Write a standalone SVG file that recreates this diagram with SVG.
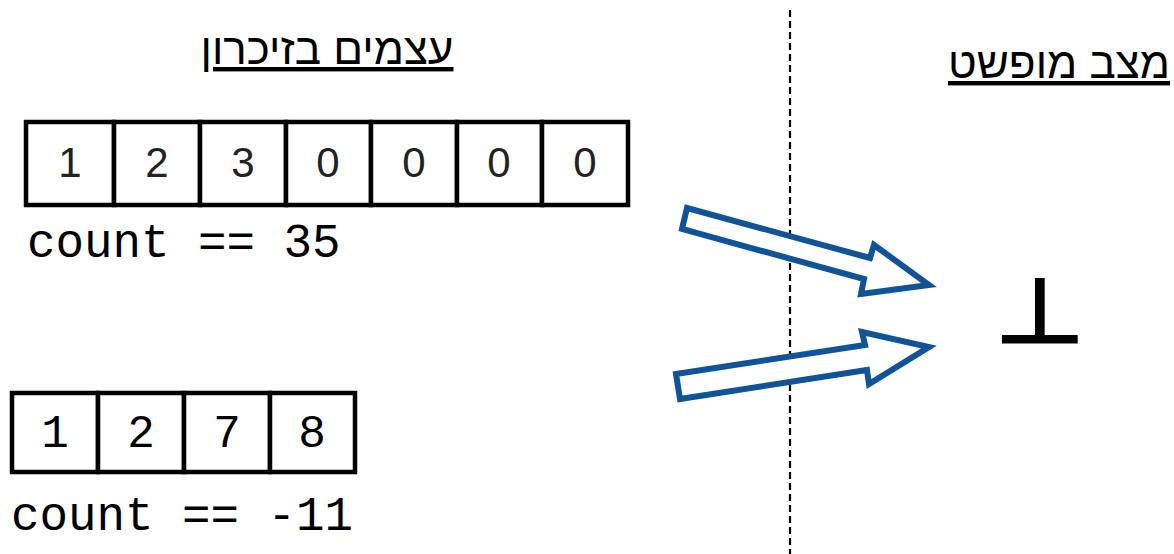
<svg xmlns="http://www.w3.org/2000/svg" width="1174" height="554" viewBox="0 0 1174 554">
<style>
.cell{fill:#fff;stroke:#000;stroke-width:4.5}
.dig{font-family:"Liberation Sans",Arial,sans-serif;font-size:42px;fill:#222;text-anchor:middle}
.dig2{font-family:"Liberation Mono","Courier New",monospace;font-size:46px;fill:#000;text-anchor:middle}
.mono{font-family:"Liberation Mono","Courier New",monospace;font-size:47.5px;fill:#000}
.title{font-family:"Liberation Sans",Arial,sans-serif;font-size:44px;fill:#000;text-anchor:middle;text-decoration:underline}
.arrow{fill:#fff;stroke:#0F5499;stroke-width:6;stroke-linejoin:miter}
</style>
<rect width="1174" height="554" fill="#fff"/>
<g id="title-memory"><text class="title" x="327" y="64">עצמים בזיכרון</text></g>
<g id="title-abstract"><text class="title" x="1059" y="78">מצב מופשט</text></g>
<line x1="790" y1="10" x2="790" y2="554" stroke="#000" stroke-width="2.2" stroke-dasharray="7,4"/>
<g id="array1">
<rect class="cell" x="26" y="122" width="88" height="83"/>
<rect class="cell" x="114" y="122" width="86" height="83"/>
<rect class="cell" x="200" y="122" width="86" height="83"/>
<rect class="cell" x="286" y="122" width="85" height="83"/>
<rect class="cell" x="371" y="122" width="86" height="83"/>
<rect class="cell" x="457" y="122" width="85" height="83"/>
<rect class="cell" x="542" y="122" width="86" height="83"/>
<text class="dig" x="70" y="177">1</text>
<text class="dig" x="157" y="177">2</text>
<text class="dig" x="243" y="177">3</text>
<text class="dig" x="328" y="177">0</text>
<text class="dig" x="414" y="177">0</text>
<text class="dig" x="499" y="177">0</text>
<text class="dig" x="585" y="177">0</text>
</g>
<g id="count1"><text class="mono" x="27" y="257">count == 35</text></g>
<g id="array2">
<rect class="cell" x="12" y="393" width="86" height="79"/>
<rect class="cell" x="98" y="393" width="86" height="79"/>
<rect class="cell" x="184" y="393" width="86" height="79"/>
<rect class="cell" x="270" y="393" width="85" height="79"/>
<text class="dig2" x="55" y="447">1</text>
<text class="dig2" x="141" y="447">2</text>
<text class="dig2" x="227" y="447">7</text>
<text class="dig2" x="312" y="447">8</text>
</g>
<g id="count2"><text class="mono" x="11" y="530">count == -11</text></g>
<g id="connectors">
<polygon class="arrow" points="687,208 870,258 874,245 929,285 861,294 864,279 682,229"/>
<polygon class="arrow" points="676,374 865,345 862,332 929,347 869,384 867,370 680,399"/>
</g>
<g id="bottom-symbol"><text x="0" y="0" transform="translate(1040,341.5) scale(1.08,0.93)" font-family="DejaVu Sans,sans-serif" font-size="96" text-anchor="middle" fill="#000" stroke="#000" stroke-width="3">⊥</text></g>
</svg>
